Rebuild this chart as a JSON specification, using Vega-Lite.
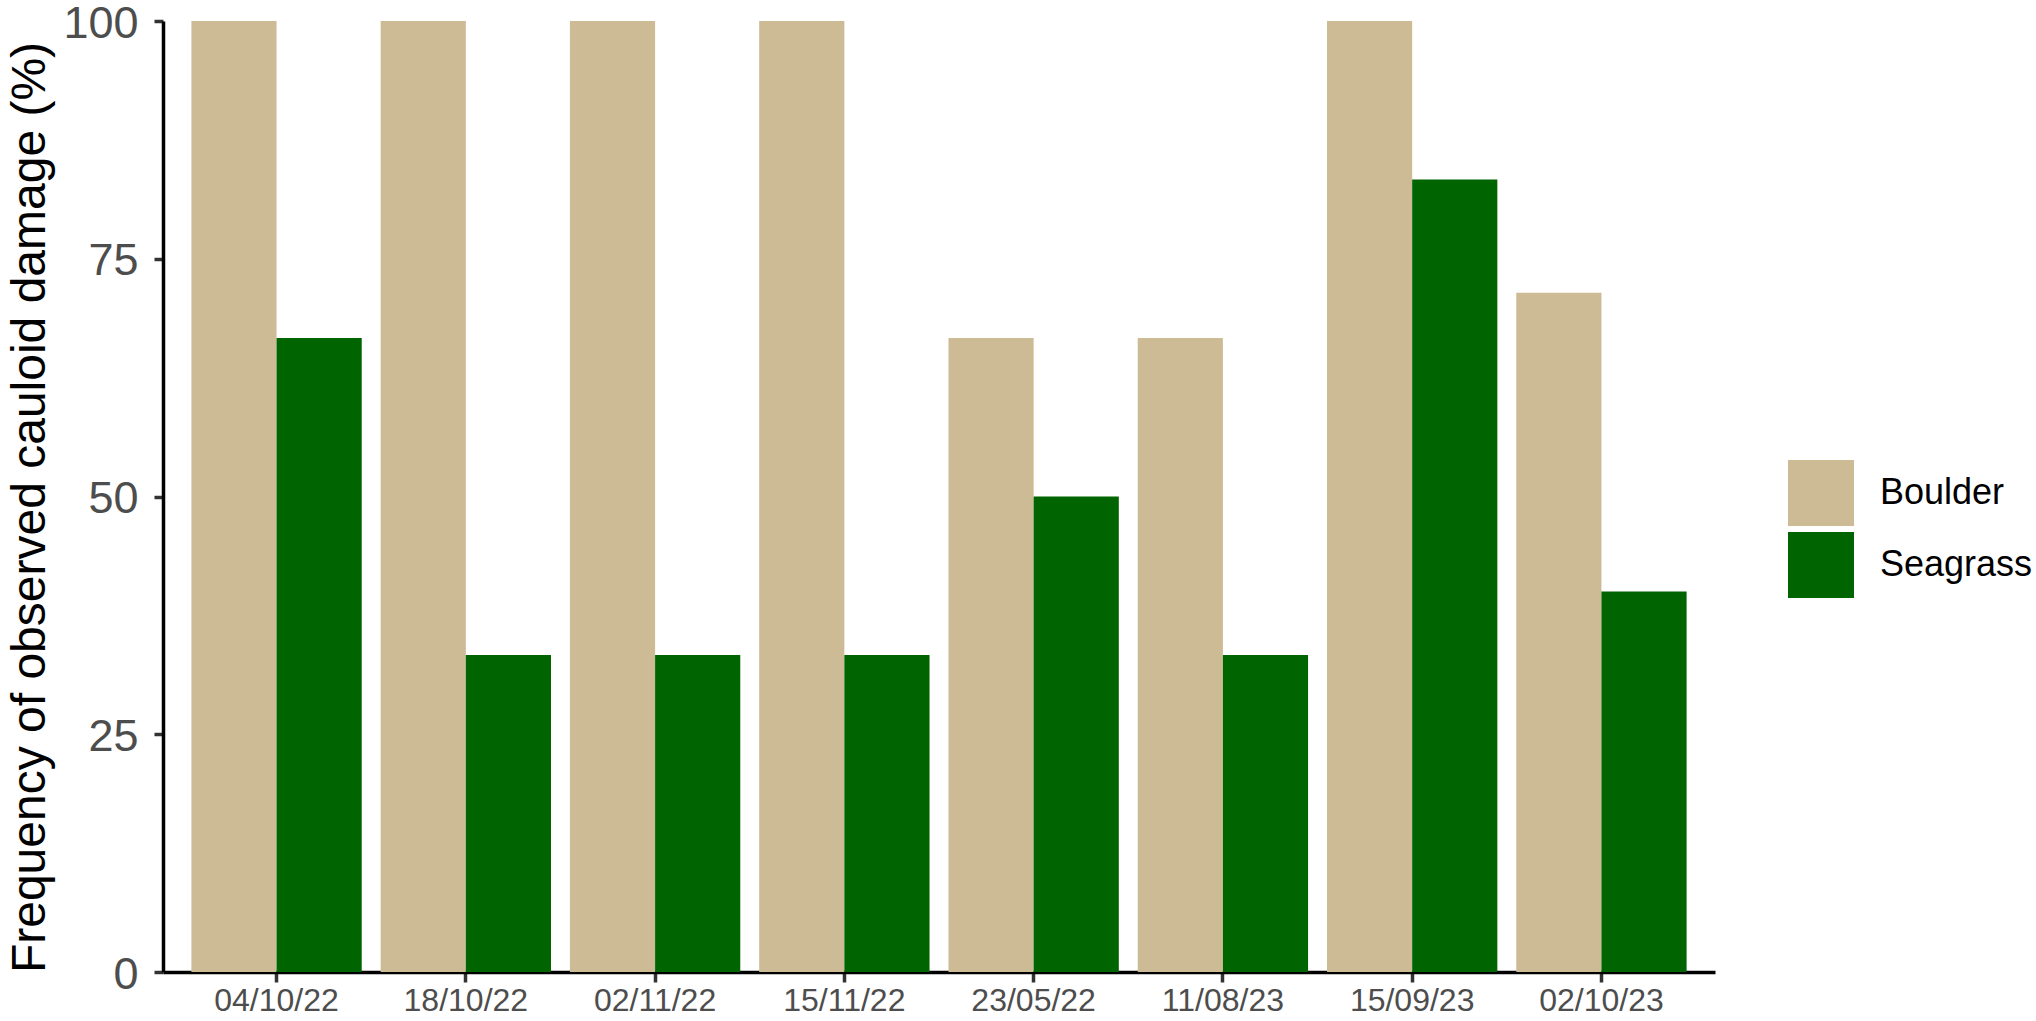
{
  "$schema": "https://vega.github.io/schema/vega-lite/v6.json",
  "width": 1552,
  "height": 951,
  "autosize": {"type": "none"},
  "padding": {"left": 163, "top": 21, "right": 321, "bottom": 49},
  "background": "white",
  "config": {"view": {"stroke": null}, "font": "Liberation Sans"},
  "data": {
    "values": [
      {"date": "04/10/22", "habitat": "Boulder", "freq": 100},
      {"date": "04/10/22", "habitat": "Seagrass", "freq": 66.67},
      {"date": "18/10/22", "habitat": "Boulder", "freq": 100},
      {"date": "18/10/22", "habitat": "Seagrass", "freq": 33.33},
      {"date": "02/11/22", "habitat": "Boulder", "freq": 100},
      {"date": "02/11/22", "habitat": "Seagrass", "freq": 33.33},
      {"date": "15/11/22", "habitat": "Boulder", "freq": 100},
      {"date": "15/11/22", "habitat": "Seagrass", "freq": 33.33},
      {"date": "23/05/22", "habitat": "Boulder", "freq": 66.67},
      {"date": "23/05/22", "habitat": "Seagrass", "freq": 50},
      {"date": "11/08/23", "habitat": "Boulder", "freq": 66.67},
      {"date": "11/08/23", "habitat": "Seagrass", "freq": 33.33},
      {"date": "15/09/23", "habitat": "Boulder", "freq": 100},
      {"date": "15/09/23", "habitat": "Seagrass", "freq": 83.33},
      {"date": "02/10/23", "habitat": "Boulder", "freq": 71.43},
      {"date": "02/10/23", "habitat": "Seagrass", "freq": 40}
    ]
  },
  "mark": {"type": "bar"},
  "encoding": {
    "x": {
      "field": "date",
      "type": "nominal",
      "sort": null,
      "scale": {"paddingInner": 0.1, "paddingOuter": 0.15},
      "axis": {
        "title": null,
        "labelAngle": 0,
        "labelFontSize": 32,
        "labelColor": "#4d4d4d",
        "labelPadding": 3,
        "domainColor": "black",
        "domainWidth": 3.5,
        "tickColor": "#333333",
        "tickWidth": 3.5,
        "tickSize": 10,
        "grid": false
      }
    },
    "xOffset": {
      "field": "habitat",
      "type": "nominal",
      "sort": ["Boulder", "Seagrass"],
      "scale": {"paddingInner": 0, "paddingOuter": 0}
    },
    "y": {
      "field": "freq",
      "type": "quantitative",
      "scale": {"domain": [0, 100], "nice": false},
      "axis": {
        "values": [0, 25, 50, 75, 100],
        "title": "Frequency of observed cauloid damage (%)",
        "titleFontSize": 48,
        "titleFontWeight": "normal",
        "titleColor": "black",
        "titleAngle": -90,
        "titleX": -119,
        "titleY": 486,
        "titleAlign": "center",
        "titleBaseline": "alphabetic",
        "labelFontSize": 45,
        "labelOffset": 2,
        "labelColor": "#4d4d4d",
        "labelPadding": 16,
        "domainColor": "black",
        "domainWidth": 3.5,
        "tickColor": "#333333",
        "tickWidth": 3.5,
        "tickSize": 9,
        "grid": false
      }
    },
    "color": {
      "field": "habitat",
      "type": "nominal",
      "scale": {"domain": ["Boulder", "Seagrass"], "range": ["#cdbb96", "#006400"]},
      "legend": {
        "title": null,
        "orient": "none",
        "legendX": 1625,
        "legendY": 439,
        "padding": 0,
        "symbolType": "square",
        "symbolSize": 4356,
        "symbolStrokeWidth": 0,
        "labelFontSize": 36,
        "labelColor": "black",
        "labelOffset": 26,
        "rowPadding": 6
      }
    }
  }
}
